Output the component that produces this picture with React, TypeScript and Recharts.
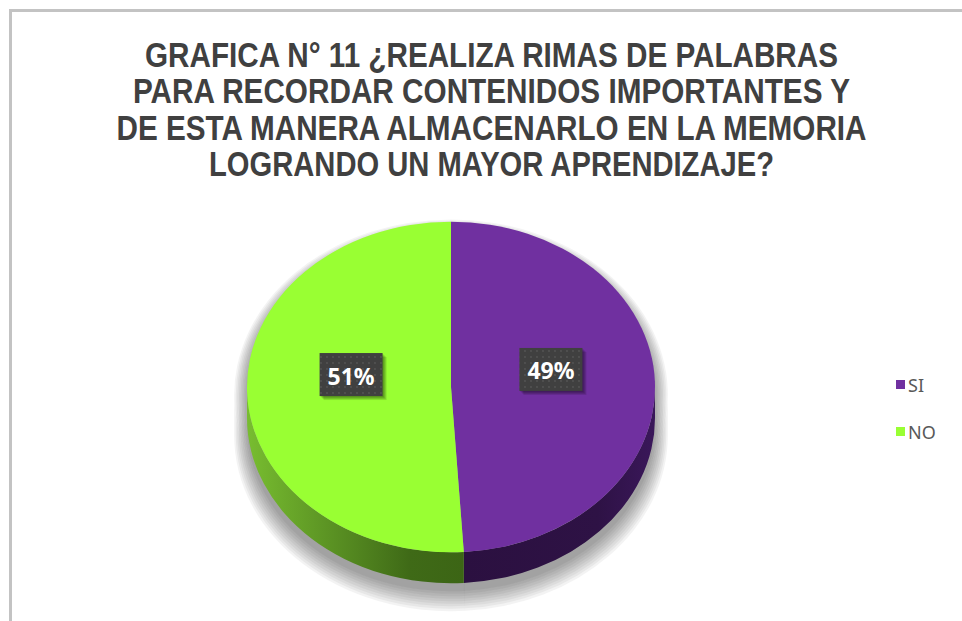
import { PieChart, Pie, Cell, Legend } from "recharts"

document.body.style.margin = "0"

const CATEGORIES = ["SI", "NO"]
const PERCENTS = [49, 51]
const TITLE_LINES = [
  "GRAFICA N° 11 ¿REALIZA RIMAS DE PALABRAS",
  "PARA RECORDAR CONTENIDOS IMPORTANTES Y",
  "DE ESTA MANERA ALMACENARLO EN LA MEMORIA",
  "LOGRANDO UN MAYOR APRENDIZAJE?",
]

const data = CATEGORIES.map((name, i) => ({ name, value: PERCENTS[i] }))

// styling
const TOP_COLORS = ["#7030A0", "#99FF33"]
const WALL_IDS = ["wallSI", "wallNO"]
const TITLE_WIDTHS = [693, 717, 750, 565]
const RAD = Math.PI / 180
const TILT = 0.81
const DEPTH = 31
const SHADOW_STEPS = [0, 2, 4, 6, 8, 10, 12, 14, 16]

function ellPt(cx: number, cy: number, rx: number, ry: number, deg: number) {
  return [cx + rx * Math.cos(-deg * RAD), cy + ry * Math.sin(-deg * RAD)]
}

// parts of the angle span that face the viewer (lower half of the ellipse)
function frontRanges(a: number, b: number) {
  const lo = Math.min(a, b)
  const hi = Math.max(a, b)
  const out: number[][] = []
  for (let k = -2; k <= 2; k++) {
    const s = Math.max(lo, -180 + 360 * k)
    const e = Math.min(hi, 360 * k)
    if (e > s) out.push([s, e])
  }
  return out
}

function slicePaths(cx: number, cy: number, r: number, startAngle: number, endAngle: number, depth = DEPTH) {
  const rx = r
  const ry = r * TILT
  const [x0, y0] = ellPt(cx, cy, rx, ry, startAngle)
  const [x1, y1] = ellPt(cx, cy, rx, ry, endAngle)
  const sweep = startAngle > endAngle ? 1 : 0
  const large = Math.abs(endAngle - startAngle) > 180 ? 1 : 0
  const top = `M${cx},${cy} L${x0},${y0} A${rx},${ry} 0 ${large} ${sweep} ${x1},${y1} Z`
  const walls = frontRanges(startAngle, endAngle).map(([s, e]) => {
    const [ax, ay] = ellPt(cx, cy, rx, ry, e)
    const [bx, by] = ellPt(cx, cy, rx, ry, s)
    return `M${ax},${ay} A${rx},${ry} 0 0 1 ${bx},${by} L${bx},${by + depth} A${rx},${ry} 0 0 0 ${ax},${ay + depth} Z`
  })
  return { top, walls }
}

function Slice3D(props: any) {
  const { cx, cy, outerRadius, startAngle, endAngle, fill } = props
  const name = props.payload?.name ?? props.name
  const idx = CATEGORIES.indexOf(name)
  const { top, walls } = slicePaths(cx, cy, outerRadius, startAngle, endAngle)
  return (
    <g>
      {walls.map((d, i) => (
        <path key={i} d={d} fill={`url(#${WALL_IDS[idx]})`} />
      ))}
      <path d={top} fill={fill} />
    </g>
  )
}

// soft shadow built from stacked translucent silhouettes
function ShadowSlice(props: any) {
  const { cx, cy, outerRadius, startAngle, endAngle } = props
  return (
    <g fill="#000">
      {SHADOW_STEPS.map((g) => {
        const { top, walls } = slicePaths(cx, cy + 8, outerRadius + g * 0.8, startAngle, endAngle, DEPTH + g * 0.6)
        return (
          <g key={g} opacity={0.045}>
            {walls.map((d, i) => (
              <path key={i} d={d} />
            ))}
            <path d={top} />
          </g>
        )
      })}
    </g>
  )
}

function renderLabel(props: any) {
  const { cx, cy, midAngle, outerRadius, percent } = props
  const r = outerRadius * 0.49
  const x = cx + r * Math.cos(-midAngle * RAD)
  const y = cy + r * TILT * Math.sin(-midAngle * RAD) - 15
  const w = 63
  const h = 43
  return (
    <g>
      {[1, 2, 3, 4].map((k) => (
        <rect key={k} x={x - w / 2 + k} y={y - h / 2 + k} width={w} height={h} fill="#000" opacity={0.12} />
      ))}
      <rect x={x - w / 2} y={y - h / 2} width={w} height={h} fill="#404040" />
      <rect x={x - w / 2} y={y - h / 2} width={w} height={h} fill="url(#dots)" />
      <text
        x={x}
        y={y + 1}
        textAnchor="middle"
        dominantBaseline="central"
        fill="#ffffff"
        fontSize={23}
        fontWeight={700}
        fontFamily="'Noto Sans', sans-serif"
      >
        {`${Math.round(percent * 100)}%`}
      </text>
    </g>
  )
}

function renderLegend() {
  return (
    <div style={{ fontFamily: "'Noto Sans', sans-serif", fontSize: 18, color: "#595959" }}>
      {CATEGORIES.map((name, i) => (
        <div key={name} style={{ display: "flex", alignItems: "center", height: 47 }}>
          <span style={{ width: 9, height: 9, background: TOP_COLORS[i], marginRight: 3, display: "inline-block" }} />
          <span>{name}</span>
        </div>
      ))}
    </div>
  )
}

export default function App() {
  return (
    <div style={{ position: "relative", width: 962, height: 621, overflow: "hidden", background: "#fff" }}>
      <svg width={1} height={1} style={{ position: "absolute", left: 0, top: 0 }}>
        <defs>
          <pattern id="dots" width={6} height={6} patternUnits="userSpaceOnUse">
            <circle cx={3} cy={3} r={0.9} fill="#555555" />
          </pattern>
          <linearGradient id="wallNO" x1="0" y1="0" x2="1" y2="0">
            <stop offset="0" stopColor="#78bd30" />
            <stop offset="0.75" stopColor="#3f6a17" />
            <stop offset="1" stopColor="#3c6515" />
          </linearGradient>
          <linearGradient id="wallSI" x1="0" y1="0" x2="1" y2="0">
            <stop offset="0" stopColor="#2b1040" />
            <stop offset="0.7" stopColor="#2e1245" />
            <stop offset="1" stopColor="#3a175a" />
          </linearGradient>
        </defs>
      </svg>

      <div
        style={{
          position: "absolute",
          left: 9,
          top: 9,
          width: 1000,
          height: 700,
          borderTop: "3px solid #c3c3c3",
          borderLeft: "3px solid #c3c3c3",
        }}
      />

      <div style={{ position: "absolute", left: 0, top: 0 }}>
        <PieChart width={962} height={621}>
          <Pie
            data={data}
            dataKey="value"
            nameKey="name"
            cx={446}
            cy={382}
            outerRadius={204}
            startAngle={90}
            endAngle={-270}
            stroke="none"
            legendType="none"
            shape={ShadowSlice}
            activeShape={ShadowSlice}
            inactiveShape={ShadowSlice}
            isAnimationActive={false}
          />
          <Pie
            data={data}
            dataKey="value"
            nameKey="name"
            cx={446}
            cy={382}
            outerRadius={204}
            startAngle={90}
            endAngle={-270}
            stroke="none"
            shape={Slice3D}
            activeShape={Slice3D}
            inactiveShape={Slice3D}
            label={renderLabel}
            labelLine={false}
            isAnimationActive={false}
          >
            {data.map((d, i) => (
              <Cell key={d.name} fill={TOP_COLORS[i]} />
            ))}
          </Pie>
          <Legend
            layout="vertical"
            verticalAlign="middle"
            align="right"
            content={renderLegend}
            wrapperStyle={{ left: 896, top: 361, right: "auto", width: 60 }}
          />
        </PieChart>
      </div>

      <svg width={962} height={200} style={{ position: "absolute", left: 0, top: 0, pointerEvents: "none" }}>
        {TITLE_LINES.map((line, i) => (
          <text
            key={i}
            x={491.5}
            y={67 + i * 36.3}
            textAnchor="middle"
            textLength={TITLE_WIDTHS[i]}
            lengthAdjust="spacingAndGlyphs"
            fill="#404040"
            fontSize={35}
            fontWeight={700}
            fontFamily="'Liberation Sans Narrow', 'Liberation Sans', Arial, sans-serif"
          >
            {line}
          </text>
        ))}
      </svg>
    </div>
  )
}
